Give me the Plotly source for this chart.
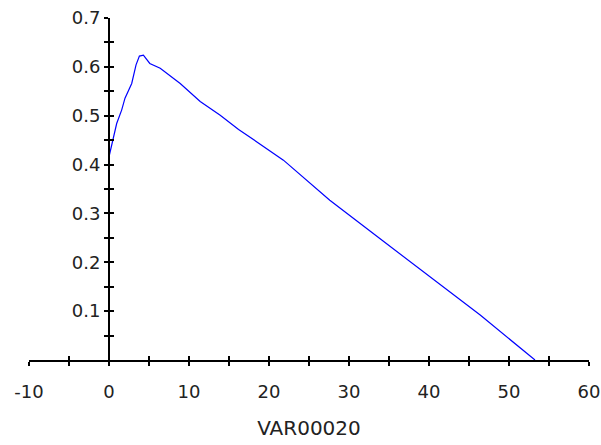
import plotly.graph_objects as go

# VAR00020 profile: quick rise to the peak, then a near-linear decline to zero
var20_x = [0, 0.46, 0.96, 1.59, 2.0, 2.84, 3.38, 3.8, 4.3, 5.1, 6.4, 8.9,
           11.4, 13.9, 16.2, 21.8, 27.6, 34.3, 40.1, 46.4, 53.25]
var20_y = [0.416, 0.450, 0.484, 0.512, 0.536, 0.566, 0.604, 0.622, 0.624,
           0.607, 0.597, 0.566, 0.529, 0.501, 0.472, 0.409, 0.327, 0.243,
           0.170, 0.092, 0.0]

x_ticks = [-10, -5, 0, 5, 10, 15, 20, 25, 30, 35, 40, 45, 50, 55, 60]
x_labels = ["-10", "", "0", "", "10", "", "20", "", "30", "", "40", "", "50", "", "60"]
y_ticks = [0.05, 0.1, 0.15, 0.2, 0.25, 0.3, 0.35, 0.4, 0.45, 0.5, 0.55, 0.6, 0.65, 0.7]
y_labels = ["", "0.1", "", "0.2", "", "0.3", "", "0.4", "", "0.5", "", "0.6", "", "0.7"]

FONT = "DejaVu Sans"
TXT = "#222222"
X_RANGE = [-10, 60]
Y_RANGE = [0, 0.7]
# the vertical axis sits at x = 0
y_axis_pos = (0 - X_RANGE[0]) / (X_RANGE[1] - X_RANGE[0])

fig = go.Figure()
# empty trace so the overlay axes (inner half of each tick) get drawn
fig.add_trace(go.Scatter(x=[], y=[], xaxis="x2", yaxis="y2",
                         mode="lines", hoverinfo="skip", showlegend=False))
fig.add_trace(go.Scatter(
    x=var20_x, y=var20_y, mode="lines",
    line=dict(color="#0000ff", width=1.2),
    hoverinfo="skip", showlegend=False,
))

common_axis = dict(
    showgrid=False, zeroline=False, showline=True, automargin=False,
    linecolor="black", linewidth=2,
    tickcolor="black", tickwidth=2, ticklen=4,
)

fig.update_layout(
    width=601, height=445,
    margin=dict(l=29, r=12, t=18, b=85),
    paper_bgcolor="white", plot_bgcolor="white",
    font=dict(family=FONT, size=18, color=TXT),
    xaxis=dict(
        range=X_RANGE, tickmode="array", tickvals=x_ticks, ticktext=x_labels,
        ticks="outside", ticklabelstandoff=10,
        title=dict(text="VAR00020", font=dict(family=FONT, size=20, color=TXT), standoff=20),
        **common_axis,
    ),
    xaxis2=dict(
        range=X_RANGE, overlaying="x", anchor="y", side="bottom",
        tickmode="array", tickvals=x_ticks, ticks="inside", showticklabels=False,
        **common_axis,
    ),
    yaxis=dict(
        range=Y_RANGE, anchor="free", position=y_axis_pos, side="left",
        tickmode="array", tickvals=y_ticks, ticktext=y_labels,
        ticks="outside",
        **common_axis,
    ),
    yaxis2=dict(
        range=Y_RANGE, overlaying="y", anchor="free", position=y_axis_pos, side="left",
        tickmode="array", tickvals=y_ticks, ticks="inside", showticklabels=False,
        **common_axis,
    ),
)

fig.write_html("out.html")
